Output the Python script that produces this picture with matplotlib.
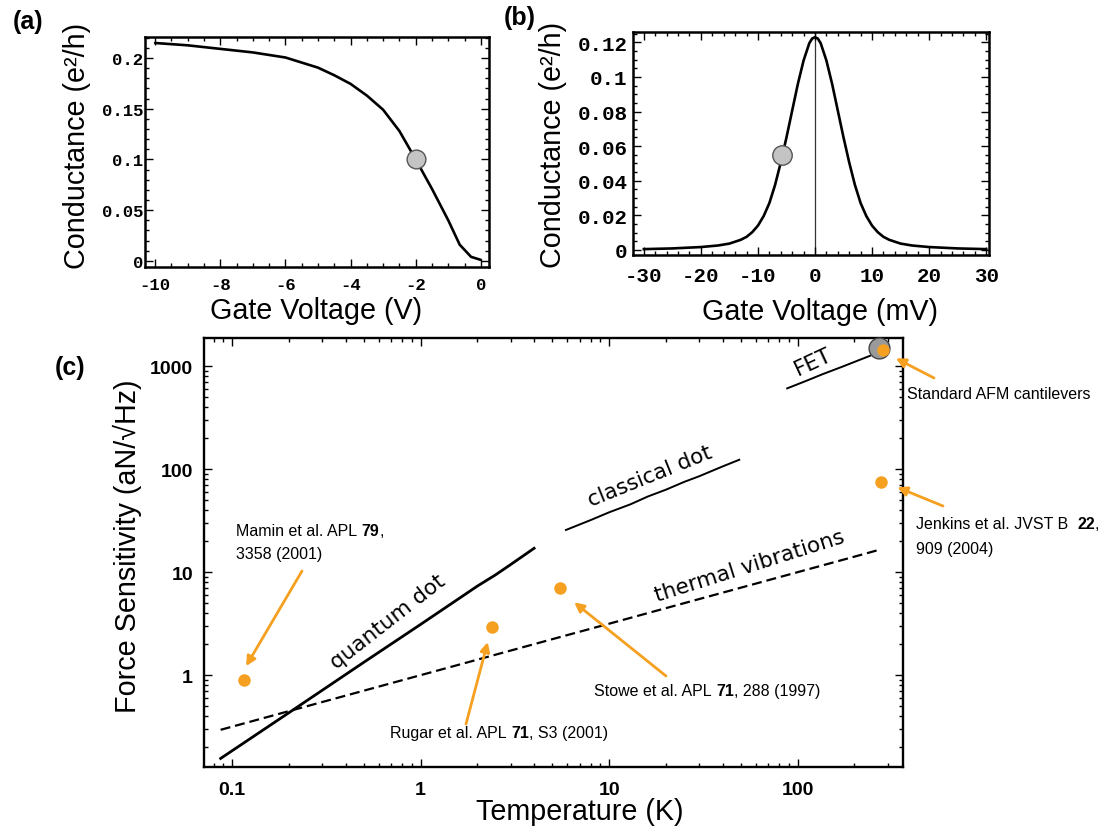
import matplotlib
matplotlib.use("Agg")
import matplotlib.pyplot as plt
from matplotlib.ticker import FixedLocator, FixedFormatter, MultipleLocator, LogLocator, NullFormatter

plt.rcParams['axes.unicode_minus'] = False

# ---------------- data ----------------
# (a) conductance vs gate voltage (V)
gate_a = [-10, -9, -8, -7, -6, -5, -4.5, -4, -3.5, -3, -2.5, -2, -1.5, -1, -0.65, -0.3, 0]
cond_a = [0.2148, 0.2125, 0.209, 0.2055, 0.2005, 0.1905, 0.183, 0.1745, 0.163, 0.149,
          0.128, 0.100, 0.071, 0.040, 0.016, 0.004, 0.001]
op_a = (-2.0, 0.100)

# (b) conductance vs gate voltage (mV)
gate_b = [-30, -25, -20, -17, -15, -13, -12, -11, -10, -9, -8, -7, -6, -5, -4, -3, -2, -1, -0.5, 0,
          0.5, 1, 2, 3, 4, 5, 6, 7, 8, 9, 10, 11, 12, 13, 15, 17, 20, 25, 30]
cond_b = [0.0004, 0.0008, 0.0016, 0.0025, 0.0036, 0.0058, 0.0075, 0.0102, 0.0140, 0.0195,
          0.0270, 0.0375, 0.0505, 0.0650, 0.0805, 0.0960, 0.1095, 0.1195, 0.1222, 0.1230,
          0.1222, 0.1195, 0.1095, 0.0960, 0.0805, 0.0650, 0.0505, 0.0375, 0.0270, 0.0195,
          0.0140, 0.0102, 0.0075, 0.0058, 0.0036, 0.0025, 0.0016, 0.0008, 0.0004]
op_b = (-5.7, 0.055)

# (c) force sensitivity vs temperature
qd_T = [0.087, 0.2, 0.5, 1.0, 2.0, 2.5, 3.0, 4.0]
qd_F = [0.155, 0.43, 1.33, 3.1, 7.3, 9.4, 11.8, 17.0]

cd_T = [5.9, 8, 10, 13, 16, 20, 25, 30, 40, 49]
cd_F = [25.6, 32.0, 38.0, 45.5, 54.0, 63.0, 75.0, 85.0, 106.0, 123.0]

tv_T = [0.087, 0.2, 0.5, 1, 2, 5, 10, 20, 50, 100, 200, 276]
tv_F = [0.294, 0.446, 0.705, 0.997, 1.41, 2.23, 3.15, 4.46, 7.05, 9.97, 14.1, 16.6]

fet_T = [88, 110, 136, 170, 200, 242]
fet_F = [607, 713, 835, 975, 1096, 1257]

afm_gray = (270, 1486)
exp_T = [0.116, 2.38, 5.47, 276, 282]
exp_F = [0.894, 2.9, 6.95, 75.3, 1429]

a_xticks = [-10, -8, -6, -4, -2, 0]
a_yticks = [0, 0.05, 0.1, 0.15, 0.2]
a_ylabels = ["0", "0.05", "0.1", "0.15", "0.2"]
b_xticks = [-30, -20, -10, 0, 10, 20, 30]
b_yticks = [0, 0.02, 0.04, 0.06, 0.08, 0.1, 0.12]
b_ylabels = ["0", "0.02", "0.04", "0.06", "0.08", "0.1", "0.12"]
c_xticks = [0.1, 1, 10, 100]
c_xlabels = ["0.1", "1", "10", "100"]
c_yticks = [1, 10, 100, 1000]
c_ylabels = ["1", "10", "100", "1000"]

# ---------------- figure ----------------
W, H = 1109, 837
fig = plt.figure(figsize=(W / 100, H / 100), dpi=100)
renderer = fig.canvas.get_renderer()

ORANGE = '#f5a020'
SANS = ['Liberation Sans', 'DejaVu Sans']
MONO = ['Liberation Mono', 'DejaVu Sans Mono']


def box(l, t, r, b):
    return [l / W, 1 - b / H, (r - l) / W, (b - t) / H]


def fpos(x, y):
    return (x / W, 1 - y / H)


def style_frame(ax, lw=1.8):
    for s in ax.spines.values():
        s.set_linewidth(lw)
        s.set_color('black')


# ---- (a) ----
ax_a = fig.add_axes(box(145, 38, 489, 268))
ax_a.plot(gate_a, cond_a, color='black', lw=1.9, solid_capstyle='round')
ax_a.plot([op_a[0]], [op_a[1]], 'o', ms=13.5, mfc='#c4c4c4', mec='#555555', mew=1.0, zorder=5)
ax_a.set_xlim(-10.31, 0.25)
ax_a.set_ylim(-0.006, 0.2207)
ax_a.xaxis.set_major_locator(FixedLocator(a_xticks))
ax_a.xaxis.set_minor_locator(MultipleLocator(0.5))
ax_a.yaxis.set_major_locator(FixedLocator(a_yticks))
ax_a.yaxis.set_major_formatter(FixedFormatter(a_ylabels))
ax_a.yaxis.set_minor_locator(MultipleLocator(0.01))
ax_a.tick_params(which='both', direction='in', top=True, right=True, width=1.0)
ax_a.tick_params(which='major', length=6)
ax_a.tick_params(which='minor', length=3)
ax_a.tick_params(axis='y', pad=1)
ax_a.tick_params(axis='x', pad=7)
for lab in ax_a.get_xticklabels() + ax_a.get_yticklabels():
    lab.set_family(MONO)
    lab.set_weight('bold')
    lab.set_fontsize(12.5)
style_frame(ax_a)

# ---- (b) ----
ax_b = fig.add_axes(box(633, 33, 989, 256))
ax_b.axvline(0, color='#333333', lw=0.9, zorder=1)
ax_b.plot(gate_b, cond_b, color='black', lw=1.9)
ax_b.plot([op_b[0]], [op_b[1]], 'o', ms=14, mfc='#c4c4c4', mec='#555555', mew=1.0, zorder=5)
ax_b.set_xlim(-31.9, 30.5)
ax_b.set_ylim(-0.003, 0.126)
ax_b.xaxis.set_major_locator(FixedLocator(b_xticks))
ax_b.xaxis.set_minor_locator(MultipleLocator(2))
ax_b.yaxis.set_major_locator(FixedLocator(b_yticks))
ax_b.yaxis.set_major_formatter(FixedFormatter(b_ylabels))
ax_b.yaxis.set_minor_locator(MultipleLocator(0.005))
ax_b.tick_params(which='both', direction='in', top=True, right=True, width=1.0)
ax_b.tick_params(which='major', length=6)
ax_b.tick_params(which='minor', length=3)
ax_b.tick_params(axis='y', pad=4)
ax_b.tick_params(axis='x', pad=8)
for lab in ax_b.get_xticklabels() + ax_b.get_yticklabels():
    lab.set_family(MONO)
    lab.set_weight('bold')
    lab.set_fontsize(15)
style_frame(ax_b)

# ---- (c) ----
ax_c = fig.add_axes(box(204, 339, 903, 768))
ax_c.set_xscale('log')
ax_c.set_yscale('log')
ax_c.set_xlim(0.071, 362)
ax_c.set_ylim(0.128, 1871)
ax_c.plot(qd_T, qd_F, color='black', lw=2.0)
ax_c.plot(cd_T, cd_F, color='black', lw=1.4)
ax_c.plot(tv_T, tv_F, color='black', lw=1.6, linestyle=(0, (4.5, 2.2)))
ax_c.plot(fet_T, fet_F, color='black', lw=1.4)
ax_c.plot([afm_gray[0]], [afm_gray[1]], 'o', ms=15, mfc='#9a9a9a', mec='#444444', mew=1.0,
          zorder=5, clip_on=False)
ax_c.plot(exp_T, exp_F, 'o', ms=9, color=ORANGE, mec='none', zorder=6, clip_on=False)

ax_c.xaxis.set_major_locator(FixedLocator(c_xticks))
ax_c.xaxis.set_major_formatter(FixedFormatter(c_xlabels))
ax_c.xaxis.set_minor_locator(LogLocator(base=10, subs=range(2, 10), numticks=20))
ax_c.xaxis.set_minor_formatter(NullFormatter())
ax_c.yaxis.set_major_locator(FixedLocator(c_yticks))
ax_c.yaxis.set_major_formatter(FixedFormatter(c_ylabels))
ax_c.yaxis.set_minor_locator(LogLocator(base=10, subs=range(2, 10), numticks=20))
ax_c.yaxis.set_minor_formatter(NullFormatter())
ax_c.tick_params(which='both', direction='in', top=True, right=True, width=1.0)
ax_c.tick_params(which='major', length=6)
ax_c.tick_params(which='minor', length=3)
ax_c.tick_params(axis='y', pad=8)
ax_c.tick_params(axis='x', pad=10)
for lab in ax_c.get_xticklabels() + ax_c.get_yticklabels():
    lab.set_family(SANS)
    lab.set_weight('bold')
    lab.set_fontsize(14)
style_frame(ax_c, 1.7)

# curve labels
curve_kw = dict(family=['DejaVu Sans'], fontsize=15.5, ha='center', va='center',
                rotation_mode='anchor')
fig.text(*fpos(388, 622), 'quantum dot', rotation=38, **curve_kw)
fig.text(*fpos(650, 477), 'classical dot', rotation=22, **curve_kw)
fig.text(*fpos(750, 567), 'thermal vibrations', rotation=17.5, **curve_kw)
fig.text(*fpos(813, 362), 'FET', rotation=25, **curve_kw)

# reference captions: runs of normal / bold text laid out along a baseline
CAP_SIZE = 11.5


def runs(x, y, parts):
    space = CAP_SIZE * 100 / 72 * 0.278
    cx = x
    for txt, bold, gap in parts:
        cx += gap * space
        t = fig.text(*fpos(cx, y), txt, family=SANS, fontsize=CAP_SIZE,
                     weight='bold' if bold else 'normal', ha='left', va='baseline')
        cx += t.get_window_extent(renderer=renderer).width


runs(236, 536, [("Mamin et al. APL", False, 0), ("79", True, 1), (",", False, 0)])
runs(236, 559, [("3358 (2001)", False, 0)])
runs(390, 738, [("Rugar et al. APL", False, 0), ("71", True, 1), (", S3 (2001)", False, 0)])
runs(594, 696, [("Stowe et al. APL", False, 0), ("71", True, 1), (", 288 (1997)", False, 0)])
runs(907, 399, [("Standard AFM cantilevers", False, 0)])
runs(916, 529, [("Jenkins et al. JVST B", False, 0), ("22", True, 2), (",", False, 0)])
runs(916, 554, [("909 (2004)", False, 0)])

# arrows from captions to points
arrow_kw = dict(arrowstyle='-|>', color=ORANGE, lw=2.0, mutation_scale=14,
                shrinkA=0, shrinkB=0)


def arrow(tail_px, head_data):
    ax_c.annotate('', xy=head_data, xycoords='data',
                  xytext=(tail_px[0], H - tail_px[1]), textcoords='figure pixels',
                  arrowprops=arrow_kw, annotation_clip=False)


arrow((302, 572), (0.1187, 1.22))
arrow((466, 725), (2.27, 2.09))
arrow((666, 677), (6.53, 5.08))
arrow((934, 379), (332, 1188))
arrow((943, 507), (338, 66.4))

# axis labels
lab_kw = dict(family=SANS, fontsize=20.7, ha='center', va='center')
fig.text(*fpos(77, 146), 'Conductance (e\u00b2/h)', rotation=90, **lab_kw)
fig.text(*fpos(316, 311), 'Gate Voltage (V)', **lab_kw)
fig.text(*fpos(553, 145), 'Conductance (e\u00b2/h)', rotation=90, **lab_kw)
fig.text(*fpos(820, 312), 'Gate Voltage (mV)', **lab_kw)
fig.text(*fpos(127, 546), 'Force Sensitivity (aN/\u221aHz)', rotation=90, **lab_kw)
fig.text(*fpos(580, 812), 'Temperature (K)', **lab_kw)

# panel letters
pl_kw = dict(family=SANS, fontsize=18, weight='bold', ha='center', va='center')
fig.text(*fpos(28, 22), '(a)', **pl_kw)
fig.text(*fpos(520, 18), '(b)', **pl_kw)
fig.text(*fpos(70, 368), '(c)', **pl_kw)

fig.savefig('out.png', dpi=100)
